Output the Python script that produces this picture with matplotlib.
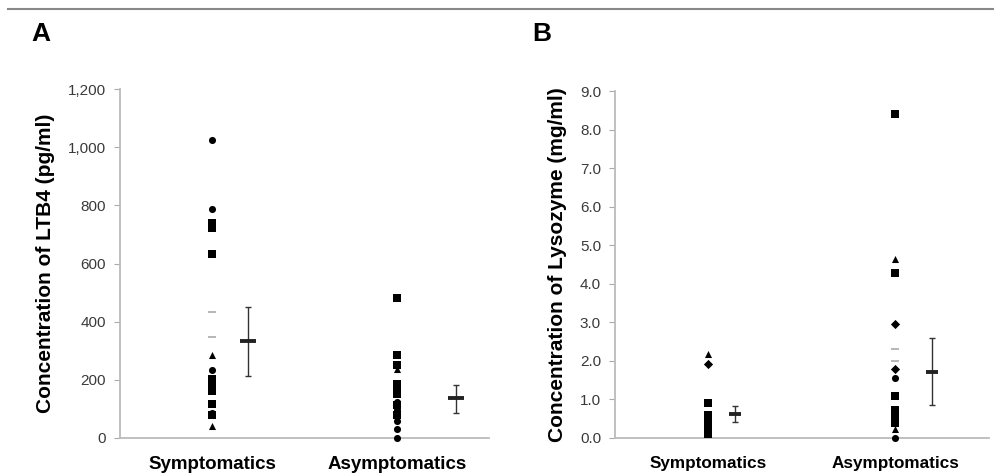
import numpy as np
import matplotlib
matplotlib.use("Agg")
import matplotlib.pyplot as plt
from matplotlib.ticker import FuncFormatter

plt.rcParams['font.family'] = ['Liberation Sans', 'DejaVu Sans']

GROUPS = ["Symptomatics", "Asymptomatics"]

# Panel A: LTB4 (pg/ml)
ltb4_symp = [1025, 786, 740, 723, 631, 434, 348, 285, 233, 204, 190, 175, 160, 118, 87, 80, 40]
ltb4_symp_mk = ['o', 'o', 's', 's', 's', '_', '_', '^', 'o', 's', 's', 's', 's', 's', 'o', 's', '^']
ltb4_asym = [480, 287, 250, 237, 187, 170, 153, 124, 112, 95, 78, 59, 32, 0]
ltb4_asym_mk = ['s', 's', 's', '^', 's', 's', 's', 'o', 's', 'o', 's', 'o', 'o', 'o']
ltb4_mean = [334, 138]
ltb4_low = [214, 87]
ltb4_high = [451, 181]

# Panel B: Lysozyme (mg/ml)
lyso_symp = [2.19, 1.93, 0.92, 0.60, 0.50, 0.37, 0.24, 0.11]
lyso_symp_mk = ['^', 'D', 's', 's', 's', 's', 's', 's']
lyso_asym = [8.41, 4.63, 4.28, 2.96, 2.30, 2.00, 1.80, 1.56, 1.10, 0.73, 0.54, 0.39, 0.24, 0.0]
lyso_asym_mk = ['s', '^', 's', 'D', '_', '_', 'D', 'o', 's', 's', 's', 's', '^', 'o']
lyso_mean = [0.62, 1.71]
lyso_low = [0.41, 0.85]
lyso_high = [0.83, 2.59]

MARKER_SIZE = {'o': 26, 's': 28, '^': 26, 'D': 22, '_': 30}


def draw_points(ax, x, values, markers):
    for v, m in zip(values, markers):
        if m == '_':
            ax.scatter(x, v, marker='_', s=MARKER_SIZE[m], color='#aaaaaa',
                       linewidths=1.2, zorder=3, clip_on=False)
        else:
            ax.scatter(x, v, marker=m, s=MARKER_SIZE[m], color='black',
                       linewidths=0, zorder=3, clip_on=False)


def draw_panel(ax, symp, symp_mk, asym, asym_mk, mean, low, high,
               mean_x, bar_size, ylim, yticks, fmt, ylabel, xfont):
    draw_points(ax, 1, symp, symp_mk)
    draw_points(ax, 2, asym, asym_mk)
    for xm, m, lo, hi in zip(mean_x, mean, low, high):
        ax.errorbar(xm, m, yerr=[[m - lo], [hi - m]], fmt='none',
                    ecolor='#333333', elinewidth=1.0, capsize=2.5, capthick=1.0)
        ax.plot([xm], [m], marker='_', markersize=bar_size, markeredgewidth=2.8,
                color='#222222')
    ax.set_xlim(0.5, 2.5)
    ax.set_ylim(*ylim)
    ax.set_yticks(yticks)
    ax.yaxis.set_major_formatter(FuncFormatter(fmt))
    ax.set_xticks([1, 2])
    ax.set_xticklabels(GROUPS, fontsize=xfont, fontweight='bold')
    ax.tick_params(axis='x', length=0, pad=13)
    ax.tick_params(axis='y', length=4, color='#aaaaaa', labelsize=11,
                   labelcolor='#3a3a3a', pad=6)
    for side in ['top', 'right']:
        ax.spines[side].set_visible(False)
    for side in ['left', 'bottom']:
        ax.spines[side].set_color('#bbbbbb')
        ax.spines[side].set_linewidth(1.3)
    ax.set_ylabel(ylabel, fontsize=15, fontweight='bold', labelpad=9)


fig = plt.figure(figsize=(9.95, 4.75), dpi=100)

axA = fig.add_axes([0.1206, 0.0779, 0.371, 0.7347])
draw_panel(axA, ltb4_symp, ltb4_symp_mk, ltb4_asym, ltb4_asym_mk,
           ltb4_mean, ltb4_low, ltb4_high, [1.196, 2.32], 12,
           (0, 1200), np.arange(0, 1201, 200),
           lambda v, p: f"{v:,.0f}", "Concentration of LTB4 (pg/ml)", 13.5)

axB = fig.add_axes([0.618, 0.0779, 0.376, 0.7305])
draw_panel(axB, lyso_symp, lyso_symp_mk, lyso_asym, lyso_asym_mk,
           lyso_mean, lyso_low, lyso_high, [1.144, 2.196], 9,
           (0, 9), np.arange(0, 9.01, 1.0),
           lambda v, p: f"{v:.1f}", "Concentration of Lysozyme (mg/ml)", 12.3)

# top rule and panel letters
fig.add_artist(plt.Line2D([0.008, 1.0], [0.981, 0.981], color='#888888', linewidth=1.5))
fig.text(0.032, 0.929, "A", fontsize=19, fontweight='bold', va='center')
fig.text(0.535, 0.929, "B", fontsize=19, fontweight='bold', va='center')

plt.savefig("out.png", dpi=100)
plt.close()
